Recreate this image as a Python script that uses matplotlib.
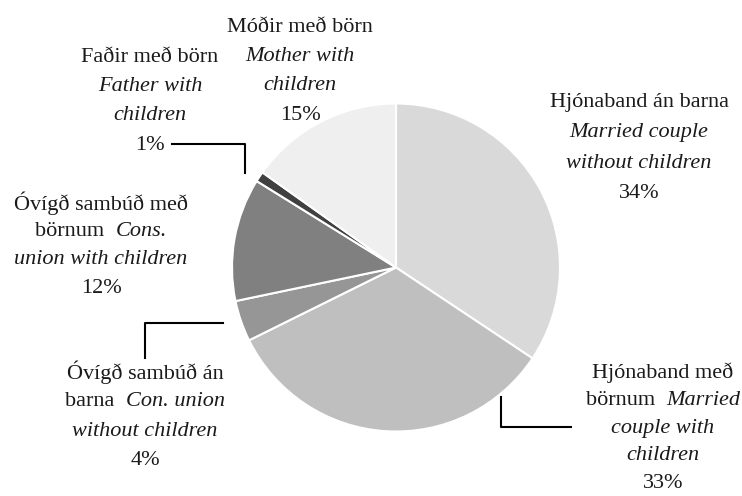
import matplotlib
matplotlib.use("Agg")
import matplotlib.pyplot as plt

# slice data, clockwise from 12 o'clock
categories = ["Hjónaband án barna", "Hjónaband með börnum", "Óvígð sambúð án barna",
              "Óvígð sambúð með börnum", "Faðir með börn", "Móðir með börn"]
shares = [34, 33, 4, 12, 1, 15]
slice_colors = ["#d9d9d9", "#bfbfbf", "#969696", "#808080", "#404040", "#efefef"]

# label lines: each line is a list of (text, italic?)
label_lines = [
    [[("Hjónaband án barna", False)], [("Married couple", True)],
     [("without children", True)], [("34%", False)]],
    [[("Hjónaband með", False)], [("börnum  ", False), ("Married", True)],
     [("couple with", True)], [("children", True)], [("33%", False)]],
    [[("Óvígð sambúð án", False)], [("barna  ", False), ("Con. union", True)],
     [("without children", True)], [("4%", False)]],
    [[("Óvígð sambúð með", False)], [("börnum  ", False), ("Cons.", True)],
     [("union with children", True)], [("12%", False)]],
    [[("Faðir með börn", False)], [("Father with", True)],
     [("children", True)], [("1%", False)]],
    [[("Móðir með börn", False)], [("Mother with", True)],
     [("children", True)], [("15%", False)]],
]

W, H = 742, 496
fig = plt.figure(figsize=(W / 100, H / 100), dpi=100)
ax = fig.add_axes([0, 0, 1, 1])
ax.set_xlim(0, W)
ax.set_ylim(0, H)
ax.axis("off")

ax.pie(shares, colors=slice_colors, startangle=90, counterclock=False,
       center=(396, H - 267.5), radius=164,
       wedgeprops=dict(edgecolor="white", linewidth=1.5))
ax.set_xlim(0, W)
ax.set_ylim(0, H)

renderer = fig.canvas.get_renderer()
FS = 16


def draw_line(xc, ytop, parts):
    y = H - ytop
    texts = []
    for s, it in parts:
        t = ax.text(0, y, s, fontsize=FS, family="Liberation Serif",
                    style="italic" if it else "normal", va="center", ha="left",
                    color="#1a1a1a")
        texts.append(t)
    widths = [t.get_window_extent(renderer).width for t in texts]
    x = xc - sum(widths) / 2
    for t, w in zip(texts, widths):
        t.set_x(x)
        x += w


# label anchor (centre x, first line y) and line step in pixels
anchors = [(639, 103, 30), (663, 373, 27.5), (145, 372, 29.5),
           (101, 203, 28.5), (150, 57, 29.5), (300, 27, 29.5)]
for lines, (xc, y0, step) in zip(label_lines, anchors):
    for i, parts in enumerate(lines):
        draw_line(xc, y0 + i * step, parts)

# leader lines
leader = dict(color="black", linewidth=1.5)
ax.plot([172, 245, 245], [H - 144, H - 144, H - 173], **leader)
ax.plot([145, 145, 223], [H - 358, H - 323, H - 323], **leader)
ax.plot([501, 501, 571], [H - 397, H - 427, H - 427], **leader)

fig.savefig("out.png", dpi=100)
